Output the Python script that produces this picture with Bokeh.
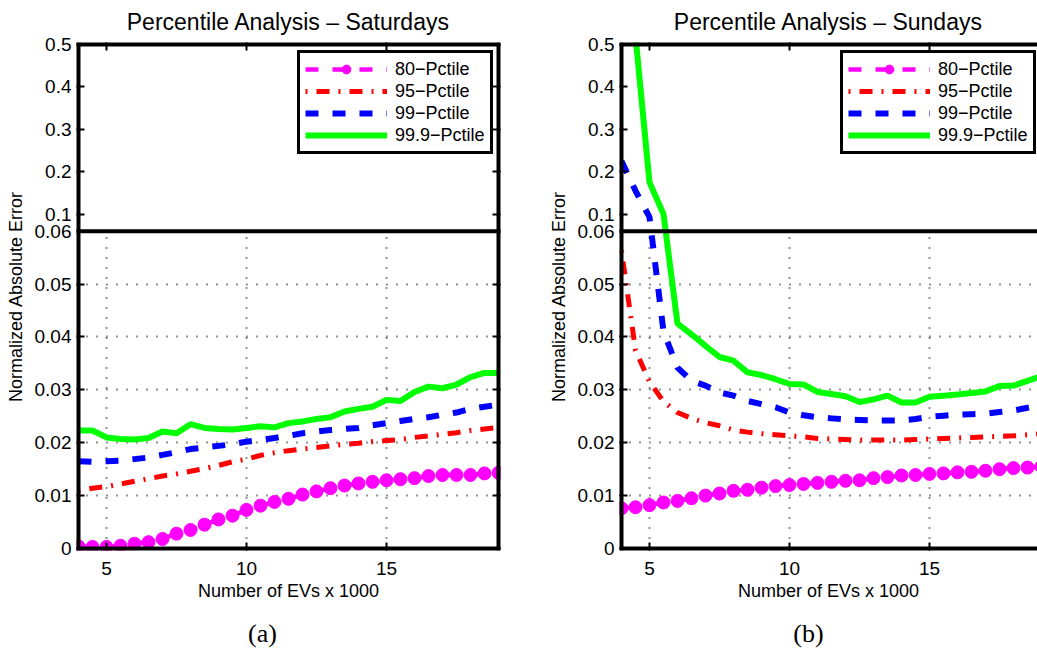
from bokeh.plotting import figure
from bokeh.layouts import row, column
from bokeh.models import (Range1d, LinearAxis, FixedTicker, CustomJSTickFormatter,
                          CustomJSTransform, Grid, Span, Legend, LegendItem, Label,
                          ColumnDataSource)
from bokeh.transform import transform
from bokeh.embed import file_html
from bokeh.resources import INLINE

# ---------------------------------------------------------------- data
n_evs = [4, 4.5, 5, 5.5, 6, 6.5, 7, 7.5, 8, 8.5, 9, 9.5, 10, 10.5, 11, 11.5,
         12, 12.5, 13, 13.5, 14, 14.5, 15, 15.5, 16, 16.5, 17, 17.5, 18, 18.5, 19]

sat_p80 = [0.0004, 0.0003, 0.0003, 0.0005, 0.0009, 0.0012, 0.0018, 0.0028, 0.0035, 0.0045,
           0.0055, 0.0062, 0.0073, 0.0081, 0.0088, 0.0094, 0.0102, 0.0108, 0.0114, 0.0119,
           0.0123, 0.0126, 0.0129, 0.0131, 0.0133, 0.0137, 0.0139, 0.0139, 0.0139, 0.0142, 0.0143]
sat_p95 = [0.0109, 0.0114, 0.0117, 0.0122, 0.0127, 0.0132, 0.0137, 0.0141, 0.0146, 0.0151,
           0.0157, 0.0164, 0.0169, 0.0176, 0.0181, 0.0185, 0.0188, 0.0191, 0.0194, 0.0197,
           0.0199, 0.0202, 0.0204, 0.0206, 0.0210, 0.0213, 0.0216, 0.0219, 0.0223, 0.0226, 0.0229]
sat_p99 = [0.0165, 0.0164, 0.0165, 0.0166, 0.0169, 0.0172, 0.0177, 0.0182, 0.0188, 0.0191,
           0.0194, 0.0197, 0.0202, 0.0205, 0.0209, 0.0213, 0.0218, 0.0221, 0.0224, 0.0226,
           0.0228, 0.0233, 0.0237, 0.0241, 0.0245, 0.0248, 0.0253, 0.0257, 0.0264, 0.0268, 0.0272]
sat_p999 = [0.0223, 0.0223, 0.0210, 0.0207, 0.0206, 0.0209, 0.0221, 0.0218, 0.0235, 0.0228,
            0.0226, 0.0225, 0.0228, 0.0231, 0.0229, 0.0237, 0.0240, 0.0245, 0.0248, 0.0259,
            0.0264, 0.0268, 0.0281, 0.0279, 0.0296, 0.0306, 0.0303, 0.0310, 0.0324, 0.0332, 0.0332]

sun_p80 = [0.0076, 0.0078, 0.0082, 0.0087, 0.0090, 0.0095, 0.0100, 0.0104, 0.0109, 0.0111,
           0.0115, 0.0118, 0.0120, 0.0122, 0.0124, 0.0126, 0.0128, 0.0129, 0.0133, 0.0135,
           0.0138, 0.0139, 0.0141, 0.0142, 0.0144, 0.0145, 0.0147, 0.0150, 0.0152, 0.0153, 0.0155]
sun_p95 = [0.0563, 0.0375, 0.0315, 0.0278, 0.0257, 0.0246, 0.0238, 0.0232, 0.0224, 0.0220,
           0.0217, 0.0215, 0.0213, 0.0211, 0.0208, 0.0207, 0.0206, 0.0205, 0.0205, 0.0205,
           0.0205, 0.0206, 0.0207, 0.0208, 0.0209, 0.0210, 0.0211, 0.0212, 0.0213, 0.0215, 0.0217]
sun_p99 = [0.225, 0.155, 0.093, 0.041, 0.0342, 0.0317, 0.0308, 0.0295, 0.0289, 0.0279,
           0.0273, 0.0267, 0.0257, 0.0252, 0.0248, 0.0246, 0.0244, 0.0243, 0.0242, 0.0242,
           0.0242, 0.0245, 0.0249, 0.0251, 0.0253, 0.0254, 0.0255, 0.0258, 0.0261, 0.0266, 0.0271]
sun_p999 = [0.75, 0.52, 0.175, 0.10, 0.0425, 0.0405, 0.0383, 0.0362, 0.0355, 0.0333,
            0.0328, 0.0320, 0.0311, 0.0310, 0.0296, 0.0292, 0.0288, 0.0277, 0.0282, 0.0289,
            0.0276, 0.0276, 0.0287, 0.0289, 0.0291, 0.0294, 0.0297, 0.0307, 0.0308, 0.0317, 0.0326]

series_labels = ["80\u2212Pctile", "95\u2212Pctile", "99\u2212Pctile", "99.9\u2212Pctile"]
x_ticks = [5, 10, 15]
y_ticks_lower = [0, 0.01, 0.02, 0.03, 0.04, 0.05, 0.06]
y_ticks_upper = [0.1, 0.2, 0.3, 0.4, 0.5]
titles = ["Percentile Analysis \u2013 Saturdays", "Percentile Analysis \u2013 Sundays"]
captions = ["(a)", "(b)"]

# ---------------------------------------------------------------- geometry / styles
FONT = "Liberation Sans"
X_START, X_END = 4, 19
BREAK, Y_TOP = 0.06, 0.5     # broken y axis: linear 0..0.06, compressed 0.06..0.5
LOWER_PX, UPPER_PX = 318, 187
PX_PER_X = 28.0              # horizontal scale, px per 1000 EVs
PX_PER_Y = LOWER_PX / BREAK  # vertical scale of the lower part
EDGE = 2                     # half of the box line width, kept outside the limits
squeeze = (UPPER_PX / (Y_TOP - BREAK)) / PX_PER_Y
D_TOP = BREAK + (Y_TOP - BREAK) * squeeze
X_PAD = EDGE / PX_PER_X
Y_PAD = EDGE / PX_PER_Y


def to_display(v):
    return v if v <= BREAK else BREAK + (v - BREAK) * squeeze


broken_y = CustomJSTransform(
    args=dict(brk=BREAK, k=squeeze),
    func="return x <= brk ? x : brk + (x - brk) * k;",
    v_func="""
const out = new Float64Array(xs.length);
for (let i = 0; i < xs.length; i++) {
  const v = xs[i];
  out[i] = v <= brk ? v : brk + (v - brk) * k;
}
return out;
""")

y_formatter = CustomJSTickFormatter(args=dict(brk=BREAK, k=squeeze), code="""
const v = tick <= brk + 1e-9 ? tick : brk + (tick - brk) / k;
return String(parseFloat(v.toFixed(3)));
""")

styles = [
    dict(color="#ff00ff", width=4.5, dash="13 14", marker=True),
    dict(color="#ff0000", width=5, dash="2 9 13 9", marker=False),
    dict(color="#0000ff", width=6, dash="13 14", marker=False),
    dict(color="#00ff00", width=6, dash="solid", marker=False),
]


def style_axis(ax, labels=True):
    ax.axis_line_color = None
    ax.major_tick_in = 8
    ax.major_tick_out = 0
    ax.major_tick_line_width = 2
    ax.major_tick_line_color = "black"
    ax.minor_tick_in = 0
    ax.minor_tick_out = 0
    ax.major_label_text_font = FONT
    ax.major_label_text_color = "black"
    ax.axis_label_text_font = FONT
    ax.axis_label_text_font_size = "18px"
    ax.axis_label_text_font_style = "normal"
    ax.axis_label_text_color = "black"
    if labels:
        ax.major_label_text_font_size = "19px"
    else:
        # tick marks only
        ax.major_label_text_font_size = "1px"
        ax.major_label_text_alpha = 0
        ax.major_label_standoff = 0


def box_line(p, loc, dim, width):
    p.add_layout(Span(location=loc, dimension=dim, line_color="black", line_width=width))


def make_panel(title, data, width, border_left, border_right, x_end, right_side):
    x_lo = X_START - X_PAD
    x_hi = x_end + X_PAD if right_side else x_end
    p = figure(width=width, height=610,
               x_range=Range1d(x_lo, x_hi), y_range=Range1d(-Y_PAD, D_TOP + Y_PAD),
               x_axis_location=None, y_axis_location=None,
               toolbar_location=None, output_backend="svg",
               min_border_left=border_left, min_border_right=border_right,
               min_border_top=41, min_border_bottom=60,
               outline_line_color=None, background_fill_color="white",
               border_fill_color="white", title=title)
    p.grid.visible = False
    p.title.align = "center"
    p.title.vertical_align = "middle"
    p.title.text_font = FONT
    p.title.text_font_size = "23px"
    p.title.text_font_style = "normal"
    p.title.text_color = "black"
    p.title.standoff = 14

    xticker = FixedTicker(ticks=x_ticks)
    yticker = FixedTicker(ticks=[to_display(v) for v in y_ticks_lower + y_ticks_upper])

    bottom = LinearAxis(ticker=xticker, axis_label="Number of EVs x 1000")
    style_axis(bottom)
    bottom.major_label_standoff = 11
    bottom.axis_label_standoff = 3
    p.add_layout(bottom, "below")

    left = LinearAxis(ticker=yticker, formatter=y_formatter,
                      axis_label="Normalized Absolute Error")
    style_axis(left)
    left.major_label_standoff = 5
    left.axis_label_standoff = 6
    p.add_layout(left, "left")

    top = LinearAxis(ticker=xticker)
    style_axis(top, labels=False)
    p.add_layout(top, "above")

    if right_side:
        right = LinearAxis(ticker=yticker)
        style_axis(right, labels=False)
        p.add_layout(right, "right")

    # dotted grid only in the lower (0 .. 0.06) part
    xgrid = Grid(dimension=0, ticker=xticker, cross_bounds=(0, BREAK),
                 grid_line_color="black", grid_line_width=2,
                 grid_line_dash="1 9", grid_line_alpha=0.85)
    ygrid = Grid(dimension=1, ticker=FixedTicker(ticks=y_ticks_lower[1:-1]),
                 grid_line_color="black", grid_line_width=2,
                 grid_line_dash="1 9", grid_line_alpha=0.85)
    p.add_layout(xgrid)
    p.add_layout(ygrid)

    items = []
    for label, values, st in zip(series_labels, data, styles):
        src = ColumnDataSource(data=dict(x=n_evs, y=values))
        rs = [p.line("x", transform("y", broken_y), source=src,
                     line_color=st["color"], line_width=st["width"],
                     line_dash=st["dash"])]
        if st["marker"]:
            rs.append(p.scatter("x", transform("y", broken_y), source=src,
                                marker="circle", size=13,
                                fill_color=st["color"], line_color=st["color"]))
        items.append(LegendItem(label=label, renderers=rs))

    # axes box (drawn on the frame edges, clipped to the frame) and the break
    box_line(p, -Y_PAD, "width", 2 * 2 * EDGE)
    box_line(p, D_TOP + Y_PAD, "width", 2 * 2 * EDGE)
    box_line(p, x_lo, "height", 2 * 2 * EDGE)
    if right_side:
        box_line(p, x_hi, "height", 2 * 2 * EDGE)
    box_line(p, BREAK, "width", 2 * EDGE)

    legend = Legend(items=items, location=(221, 396),
                    border_line_color="black", border_line_width=3,
                    border_line_alpha=1.0,
                    background_fill_color="white", background_fill_alpha=1,
                    padding=5, spacing=0, margin=0,
                    glyph_width=82, glyph_height=22, label_height=22,
                    label_standoff=8, label_text_font=FONT,
                    label_text_font_size="18px", label_text_color="black")
    p.add_layout(legend)
    return p


p_sat = make_panel(titles[0], [sat_p80, sat_p95, sat_p99, sat_p999],
                   width=520, border_left=76, border_right=20,
                   x_end=X_END, right_side=True)
# right panel: frame runs to the page edge
right_frame_px = 1037 - 520 - 99
p_sun = make_panel(titles[1], [sun_p80, sun_p95, sun_p99, sun_p999],
                   width=517, border_left=99, border_right=0,
                   x_end=X_START - X_PAD + right_frame_px / PX_PER_X, right_side=False)

cap = figure(width=1037, height=46, toolbar_location=None, output_backend="svg",
             x_axis_location=None, y_axis_location=None, outline_line_color=None,
             x_range=Range1d(0, 1), y_range=Range1d(0, 1),
             min_border_left=0, min_border_right=0, min_border_top=0, min_border_bottom=0)
cap.grid.visible = False
for text, cx in zip(captions, [262, 808]):
    cap.add_layout(Label(x=cx, y=23, x_units="screen", y_units="screen", text=text,
                         text_align="center", text_baseline="middle",
                         text_font="Liberation Serif", text_font_size="26px",
                         text_color="black"))

layout = column(row(p_sat, p_sun), cap)

open("out.html", "w").write(file_html(layout, INLINE))
